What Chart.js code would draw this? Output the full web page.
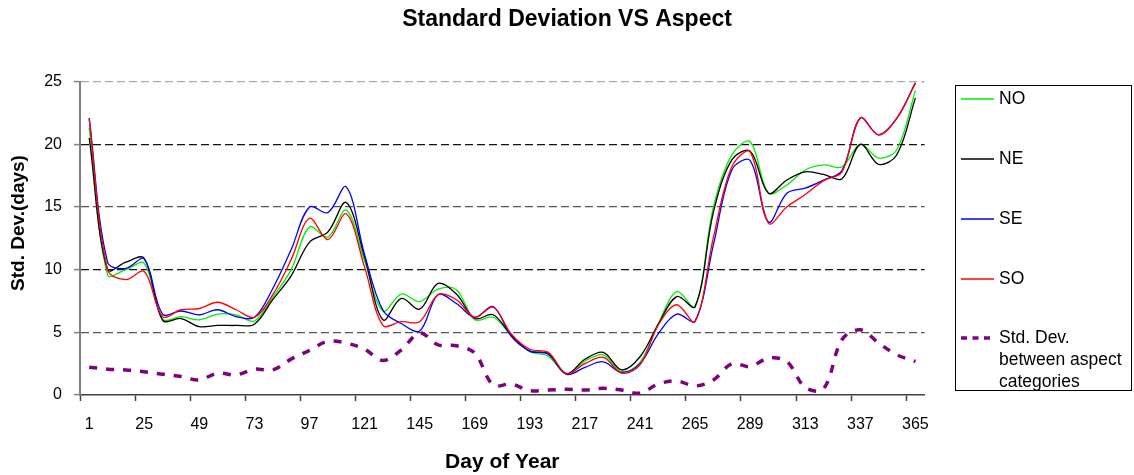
<!DOCTYPE html>
<html>
<head>
<meta charset="utf-8">
<script src="https://cdn.jsdelivr.net/npm/chart.js@4/dist/chart.umd.min.js"></script>
<style>
html,body{margin:0;padding:0;background:#fff;}
canvas{display:block;}
</style>
</head>
<body>
<canvas id="c" width="1134" height="475"></canvas>
<script>
const days = [1,9,17,25,33,41,49,57,65,73,81,89,97,105,113,121,129,137,145,153,161,169,177,185,193,201,209,217,225,233,241,249,257,265,273,281,289,297,305,313,321,329,337,345,353,365];

const seriesNO = [21.3,9.6,10.0,10.5,6.05,6.25,6.0,6.45,6.4,5.9,7.8,10.0,13.4,12.6,14.75,10.7,6.7,8.05,7.45,8.45,8.4,6.0,6.2,4.75,3.45,3.1,1.7,2.7,3.2,1.85,2.6,5.7,8.25,7.05,15.0,19.15,20.2,16.1,16.75,17.95,18.35,18.2,20.0,18.9,19.6,24.3];
const seriesNE = [20.5,10.0,10.6,10.9,5.95,6.1,5.45,5.55,5.55,5.65,7.6,9.5,12.2,13.0,15.35,11.0,6.0,7.7,6.85,8.9,8.05,6.1,6.4,4.75,3.5,3.3,1.7,2.85,3.4,2.0,3.05,5.65,7.85,7.05,14.6,18.75,19.45,16.1,17.15,17.8,17.6,17.25,20.0,18.4,19.2,23.7];
const seriesSE = [22.1,10.6,10.1,10.85,6.45,6.7,6.4,6.8,6.25,6.2,8.5,11.6,15.0,14.55,16.6,11.2,6.75,5.7,5.1,8.0,7.3,6.2,7.05,4.65,3.5,3.25,1.65,2.2,2.65,1.8,2.5,4.9,6.45,5.9,12.0,17.95,18.7,13.8,16.1,16.5,17.15,17.9,22.1,20.75,22.1,24.9];
const seriesSO = [22.0,10.0,9.2,9.85,6.25,6.8,6.9,7.4,6.8,6.2,8.0,10.8,14.1,12.4,14.45,10.2,5.55,5.85,5.85,8.0,7.6,6.2,7.0,4.85,3.65,3.4,1.7,2.5,3.0,1.75,2.4,5.6,7.2,5.85,12.6,18.2,19.4,13.7,15.0,16.0,17.1,17.8,22.1,20.75,22.1,24.9];
const seriesBetween = [2.22,2.06,2.0,1.85,1.66,1.47,1.2,1.74,1.6,2.06,2.0,2.86,3.56,4.28,4.14,3.65,2.75,3.6,4.95,4.0,3.93,3.34,0.8,0.88,0.35,0.4,0.45,0.4,0.53,0.4,0.15,0.88,1.12,0.72,1.2,2.49,2.27,2.94,2.67,0.6,0.5,4.41,5.2,4.14,3.2,2.67];

const yTicks = [0,5,10,15,20,25];
const legendLabels = ['NO','NE','SE','SO',['Std. Dev.','between aspect','categories']];

const FONT = "'Liberation Sans', Arial, Helvetica, sans-serif";
Chart.defaults.font.family = FONT;
Chart.defaults.color = '#000';

const gridColors = {0:'rgba(0,0,0,0)',5:'#555555',10:'#111111',15:'#555555',20:'#111111',25:'#aaaaaa'};

const extrasPlugin = {
  id: 'extras',
  afterDraw(chart) {
    const ctx = chart.ctx;
    // Y axis title
    ctx.save();
    ctx.translate(19, 223);
    ctx.rotate(-Math.PI / 2);
    ctx.font = "bold 19px " + FONT;
    ctx.fillStyle = '#000';
    ctx.textAlign = 'center';
    ctx.textBaseline = 'middle';
    ctx.fillText('Std. Dev.(days)', 0, 0);
    ctx.restore();

    // Legend
    const bx = 955.5, by = 85.5, bw = 176, bh = 305;
    ctx.save();
    ctx.fillStyle = '#fff';
    ctx.fillRect(bx, by, bw, bh);
    ctx.strokeStyle = '#000';
    ctx.lineWidth = 1;
    ctx.strokeRect(bx, by, bw, bh);
    ctx.beginPath();
    ctx.rect(bx + 0.5, by + 0.5, bw - 1, bh - 1);
    ctx.clip();
    const rows = [99, 159, 219, 279, 338];
    const ds = chart.data.datasets;
    ctx.font = "17.5px " + FONT;
    ctx.textAlign = 'left';
    ctx.textBaseline = 'middle';
    ds.forEach((d, i) => {
      const y = rows[i];
      ctx.save();
      ctx.strokeStyle = d.borderColor;
      ctx.lineWidth = d.borderDash ? 3.5 : 1.3;
      ctx.setLineDash(d.borderDash ? [6, 5.5] : []);
      ctx.beginPath();
      ctx.moveTo(961, y);
      ctx.lineTo(994, y);
      ctx.stroke();
      ctx.restore();
      const lab = legendLabels[i];
      ctx.fillStyle = '#000';
      if (Array.isArray(lab)) {
        lab.forEach((t, k) => ctx.fillText(t, 999, y + k * 22));
      } else {
        ctx.fillText(lab, 999, y);
      }
    });
    ctx.restore();
  }
};

new Chart(document.getElementById('c'), {
  type: 'line',
  data: {
    labels: days,
    datasets: [
      {label: 'NO', data: seriesNO, borderColor: '#00ee00', borderWidth: 1.3, order: 4},
      {label: 'NE', data: seriesNE, borderColor: '#000000', borderWidth: 1.3, order: 3},
      {label: 'SE', data: seriesSE, borderColor: '#0000ff', borderWidth: 1.3, order: 2},
      {label: 'SO', data: seriesSO, borderColor: '#ff0000', borderWidth: 1.3, order: 1},
      {label: 'Std. Dev. between aspect categories', data: seriesBetween, borderColor: '#800080', borderWidth: 3.5, borderDash: [8, 9], borderCapStyle: 'butt', order: 0}
    ]
  },
  options: {
    responsive: false,
    animation: false,
    elements: {
      point: {radius: 0, hoverRadius: 0},
      line: {tension: 0.35, fill: false}
    },
    layout: {padding: 0},
    plugins: {
      legend: {display: false},
      tooltip: {enabled: false},
      title: {
        display: true,
        text: 'Standard Deviation VS Aspect',
        color: '#000',
        font: {size: 23, weight: 'bold', family: FONT},
        padding: {top: 6, bottom: 48}
      }
    },
    scales: {
      x: {
        type: 'category',
        offset: true,
        grid: {
          offset: true,
          drawOnChartArea: false,
          drawTicks: true,
          tickLength: 6,
          tickWidth: 1.5,
          tickColor: (c) => (c.index !== undefined && c.index % 3 === 0) ? '#404040' : 'rgba(0,0,0,0)'
        },
        border: {color: '#404040', width: 1.5},
        ticks: {
          autoSkip: false,
          maxRotation: 0,
          minRotation: 0,
          padding: 14,
          color: '#000',
          font: {size: 16},
          callback: function (v, i) { return i % 3 === 0 ? String(this.getLabelForValue(v)) : ''; }
        },
        title: {
          display: true,
          text: 'Day of Year',
          color: '#000',
          font: {size: 21, weight: 'bold'},
          padding: {top: 0, bottom: 0}
        },
        afterFit(s) { s.height = 80; }
      },
      y: {
        min: 0,
        max: 25,
        afterBuildTicks(s) { s.ticks = yTicks.map(v => ({value: v})); },
        ticks: {padding: 12, color: '#000', font: {size: 16}},
        grid: {
          color: (c) => gridColors[c.tick ? c.tick.value : 0] || '#111',
          lineWidth: 1.2,
          tickColor: '#808080',
          tickLength: 6,
          tickWidth: 1.5
        },
        border: {color: '#808080', width: 2, dash: [8, 4]},
        afterFit(s) { s.width = 80; }
      },
      y2: {
        position: 'right',
        display: true,
        grid: {display: false, drawTicks: false},
        border: {display: false},
        ticks: {display: false},
        afterFit(s) { s.width = 1134 - 924.6; }
      }
    }
  },
  plugins: [extrasPlugin]
});
</script>
</body>
</html>
